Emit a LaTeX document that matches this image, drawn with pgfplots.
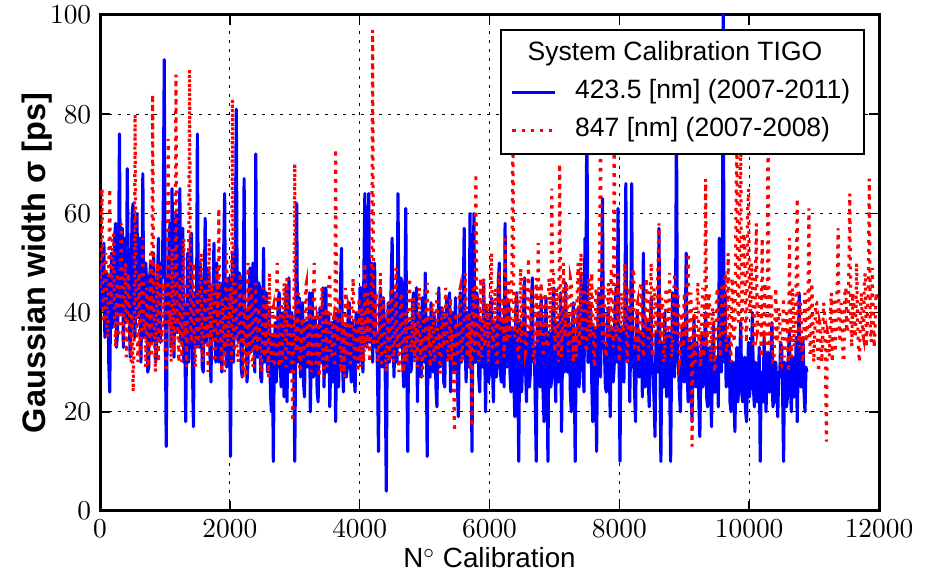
\documentclass[border=0pt]{standalone}
\usepackage[no-math]{fontspec}
\setmainfont{Liberation Sans}
\usepackage{pgfplots}
\usepackage{pgfplotstable}
\pgfplotsset{compat=1.18}

% 423.5 nm series, one value every 15 calibrations (0 ... 10890)
\pgfplotstableread[row sep=\\]{y\\
50\\41\\44\\52\\54\\35\\38\\48\\47\\30\\24\\45\\52\\37\\41\\55\\58\\33\\36\\49\\
76\\40\\45\\57\\33\\46\\55\\38\\69\\50\\40\\31\\48\\60\\62\\36\\35\\52\\60\\39\\
42\\55\\30\\44\\68\\35\\38\\50\\45\\28\\29\\47\\50\\34\\36\\52\\44\\30\\32\\46\\
55\\37\\34\\50\\47\\62\\91\\40\\13\\38\\42\\56\\58\\33\\65\\45\\31\\54\\60\\36\\
36\\48\\65\\34\\44\\57\\30\\41\\18\\36\\52\\30\\38\\55\\56\\28\\17\\44\\40\\33\\
76\\38\\33\\50\\45\\29\\28\\42\\59\\34\\37\\49\\48\\31\\26\\45\\42\\54\\35\\30\\
50\\37\\30\\46\\44\\28\\36\\52\\64\\33\\29\\45\\47\\38\\11\\40\\52\\30\\38\\55\\
81\\36\\34\\48\\46\\29\\27\\40\\67\\35\\40\\26\\30\\44\\49\\32\\33\\50\\43\\28\\
72\\34\\31\\46\\45\\27\\26\\38\\53\\30\\36\\44\\28\\37\\41\\24\\20\\35\\10\\32\\
38\\26\\30\\42\\44\\31\\25\\36\\40\\23\\33\\45\\22\\34\\47\\28\\29\\40\\36\\30\\
10\\35\\62\\30\\35\\43\\27\\38\\42\\26\\23\\37\\38\\29\\31\\44\\20\\33\\44\\27\\
28\\39\\36\\24\\22\\34\\41\\30\\30\\45\\25\\33\\45\\28\\32\\40\\21\\31\\38\\26\\
27\\40\\18\\32\\40\\25\\33\\46\\53\\30\\24\\37\\36\\27\\29\\42\\42\\31\\26\\38\\
35\\27\\24\\40\\38\\30\\30\\45\\45\\33\\28\\48\\64\\36\\33\\52\\64\\34\\40\\50\\
30\\42\\50\\33\\36\\28\\12\\40\\45\\30\\29\\43\\38\\26\\4\\35\\42\\30\\31\\46\\
55\\34\\27\\44\\40\\30\\64\\38\\33\\47\\46\\29\\25\\40\\61\\32\\12\\36\\38\\28\\
29\\42\\44\\31\\33\\45\\22\\37\\40\\28\\27\\43\\35\\30\\48\\33\\11\\39\\34\\27\\
42\\30\\28\\40\\36\\25\\21\\34\\45\\29\\30\\41\\38\\26\\25\\36\\43\\31\\32\\44\\
24\\38\\40\\28\\29\\43\\36\\26\\19\\35\\44\\30\\31\\42\\57\\33\\26\\40\\40\\29\\
60\\35\\12\\40\\60\\30\\30\\44\\42\\27\\24\\38\\37\\29\\46\\33\\20\\41\\35\\26\\
28\\40\\43\\30\\22\\36\\38\\27\\31\\45\\50\\29\\26\\38\\36\\25\\58\\34\\29\\42\\
41\\28\\24\\37\\35\\26\\19\\40\\44\\30\\10\\35\\38\\24\\30\\42\\47\\29\\22\\36\\
36\\25\\28\\41\\47\\30\\33\\22\\10\\38\\40\\27\\25\\43\\37\\24\\18\\34\\43\\29\\
10\\36\\34\\25\\27\\40\\45\\30\\22\\37\\38\\26\\30\\44\\16\\33\\41\\28\\46\\35\\
28\\39\\36\\24\\20\\35\\42\\29\\10\\33\\33\\41\\25\\30\\48\\36\\30\\24\\55\\40\\
85\\30\\30\\42\\40\\26\\18\\37\\36\\28\\12\\35\\44\\30\\27\\40\\63\\33\\33\\25\\
24\\38\\41\\29\\19\\35\\37\\26\\29\\42\\45\\30\\61\\34\\10\\37\\35\\27\\26\\40\\
66\\32\\30\\41\\22\\35\\66\\29\\34\\24\\18\\38\\40\\28\\27\\36\\36\\23\\52\\33\\
25\\37\\38\\27\\21\\34\\43\\30\\28\\22\\15\\36\\35\\28\\57\\31\\10\\34\\32\\25\\
40\\28\\23\\35\\36\\26\\10\\31\\44\\29\\27\\37\\80\\30\\30\\24\\20\\34\\37\\27\\
26\\35\\52\\28\\22\\33\\34\\24\\18\\30\\39\\26\\25\\34\\31\\22\\15\\29\\36\\25\\
27\\35\\40\\23\\21\\30\\33\\26\\17\\32\\38\\24\\24\\31\\30\\21\\55\\34\\28\\40\\
102\\30\\44\\25\\26\\33\\35\\22\\20\\30\\30\\24\\16\\28\\33\\22\\25\\31\\38\\24\\
22\\30\\31\\20\\18\\28\\34\\23\\26\\32\\40\\25\\21\\30\\29\\22\\24\\33\\10\\27\\
28\\22\\35\\26\\20\\31\\32\\24\\24\\29\\38\\21\\22\\30\\30\\25\\19\\28\\27\\34\\
33\\24\\10\\30\\29\\21\\23\\32\\36\\25\\20\\28\\31\\23\\26\\35\\18\\30\\44\\26\\
25\\31\\35\\24\\20\\29\\28\\
}\bluedata

% 847 nm series, one value every 15 calibrations (0 ... 11970)
\pgfplotstableread[row sep=\\]{y\\
45\\52\\65\\40\\38\\47\\52\\36\\35\\50\\65\\42\\42\\55\\56\\38\\33\\46\\48\\35\\
40\\49\\58\\36\\34\\45\\50\\31\\37\\48\\44\\33\\30\\40\\24\\35\\80\\42\\36\\30\\
48\\33\\31\\44\\55\\37\\38\\29\\45\\40\\29\\36\\52\\31\\84\\45\\35\\28\\42\\50\\
30\\41\\50\\34\\37\\46\\44\\32\\28\\40\\75\\37\\40\\30\\53\\44\\32\\38\\88\\41\\
36\\30\\47\\40\\30\\48\\55\\35\\38\\29\\42\\50\\89\\37\\34\\45\\50\\32\\29\\41\\
44\\33\\36\\48\\52\\30\\31\\42\\47\\35\\38\\28\\55\\40\\33\\46\\45\\31\\30\\39\\
49\\34\\61\\40\\35\\28\\43\\37\\28\\45\\52\\33\\37\\41\\45\\30\\83\\39\\32\\46\\
40\\31\\30\\43\\48\\34\\35\\27\\44\\38\\27\\36\\50\\30\\36\\45\\42\\29\\31\\40\\
46\\32\\34\\41\\39\\28\\28\\36\\45\\31\\37\\43\\33\\27\\48\\35\\30\\40\\41\\29\\
35\\42\\50\\31\\29\\38\\43\\30\\36\\46\\38\\29\\47\\34\\31\\40\\40\\28\\18\\35\\
70\\32\\33\\40\\44\\29\\28\\37\\39\\31\\35\\45\\46\\30\\30\\38\\42\\28\\36\\44\\
50\\31\\29\\39\\38\\27\\33\\42\\45\\30\\27\\36\\41\\29\\36\\46\\48\\32\\31\\38\\
39\\29\\73\\36\\34\\43\\42\\30\\28\\38\\37\\27\\45\\33\\31\\41\\40\\29\\35\\44\\
47\\31\\30\\38\\38\\28\\43\\35\\29\\41\\36\\30\\50\\37\\33\\44\\41\\30\\38\\46\\
97\\34\\34\\42\\44\\30\\30\\37\\48\\29\\36\\43\\39\\31\\28\\36\\42\\30\\35\\45\\
45\\30\\31\\39\\49\\33\\37\\28\\33\\44\\42\\31\\28\\37\\40\\30\\36\\46\\47\\32\\
32\\40\\43\\30\\38\\35\\29\\42\\45\\31\\35\\27\\40\\36\\31\\44\\46\\33\\37\\29\\
34\\41\\42\\30\\30\\37\\44\\32\\36\\28\\28\\40\\41\\33\\35\\45\\39\\30\\31\\38\\
43\\30\\36\\27\\16\\39\\40\\31\\33\\44\\45\\30\\30\\37\\38\\48\\42\\31\\34\\40\\
29\\38\\17\\45\\44\\32\\68\\40\\36\\30\\41\\47\\31\\38\\47\\33\\35\\42\\40\\30\\
38\\45\\52\\33\\33\\41\\45\\30\\30\\48\\48\\36\\36\\43\\42\\31\\55\\39\\34\\46\\
46\\35\\39\\48\\80\\37\\35\\44\\43\\31\\31\\40\\49\\34\\37\\47\\44\\32\\33\\42\\
51\\36\\36\\45\\40\\30\\30\\42\\47\\34\\54\\38\\35\\46\\42\\31\\38\\44\\38\\33\\
33\\47\\45\\36\\65\\40\\48\\32\\37\\45\\36\\30\\70\\41\\31\\38\\50\\35\\38\\46\\
41\\32\\35\\47\\46\\36\\30\\42\\39\\31\\44\\50\\33\\38\\52\\34\\37\\45\\42\\33\\
32\\43\\47\\35\\36\\48\\40\\31\\29\\44\\45\\37\\38\\52\\78\\40\\34\\46\\43\\32\\
31\\42\\46\\35\\37\\49\\41\\33\\76\\45\\35\\38\\48\\30\\32\\44\\44\\36\\38\\50\\
40\\32\\30\\45\\45\\37\\36\\48\\49\\33\\33\\41\\42\\30\\37\\46\\46\\34\\31\\40\\
39\\47\\44\\33\\35\\42\\50\\31\\32\\45\\43\\36\\38\\49\\58\\34\\34\\43\\41\\30\\
30\\44\\45\\35\\37\\48\\40\\31\\33\\42\\48\\36\\36\\45\\42\\30\\31\\40\\39\\33\\
44\\36\\35\\47\\52\\31\\38\\44\\13\\35\\41\\30\\33\\42\\46\\34\\37\\29\\40\\45\\
31\\38\\67\\33\\36\\44\\43\\30\\34\\41\\39\\28\\30\\43\\45\\35\\37\\31\\41\\46\\
35\\44\\48\\32\\33\\52\\40\\36\\30\\47\\44\\34\\36\\58\\78\\40\\38\\62\\75\\35\\
42\\56\\55\\38\\34\\60\\65\\41\\40\\50\\47\\33\\33\\45\\58\\36\\37\\43\\44\\31\\
55\\37\\36\\46\\42\\32\\79\\40\\33\\44\\40\\30\\30\\38\\45\\34\\35\\41\\39\\29\\
29\\36\\43\\31\\34\\40\\38\\28\\55\\37\\31\\45\\41\\33\\36\\48\\63\\35\\33\\42\\
40\\31\\30\\37\\44\\34\\35\\40\\61\\32\\32\\46\\39\\30\\36\\42\\42\\33\\28\\38\\
37\\30\\33\\42\\41\\29\\14\\36\\35\\31\\39\\44\\30\\36\\43\\32\\36\\45\\57\\38\\
34\\42\\40\\31\\31\\45\\45\\36\\37\\48\\64\\39\\33\\44\\42\\35\\36\\50\\39\\32\\
30\\41\\44\\36\\35\\47\\48\\33\\38\\45\\67\\37\\34\\49\\41\\33\\37\\44\\43\\
}\reddata

\begin{document}
\begin{tikzpicture}
\path[use as bounding box] (0,0) rectangle (371.6pt,229.6pt);
\begin{axis}[
  at={(40pt,25.2pt)}, anchor=south west,
  scale only axis, width=311.6pt, height=198.4pt,
  xmin=0, xmax=12000, ymin=0, ymax=100,
  xtick={0,2000,4000,6000,8000,10000,12000},
  ytick={0,20,40,60,80,100},
  scaled x ticks=false,
  xticklabel style={/pgf/number format/1000 sep={}},
  ticklabel style={font=\fontsize{10.6}{12}\selectfont},
  tick align=inside,
  major tick length=4pt,
  tick style={black, line width=0.6pt},
  axis line style={black, line width=1.2pt},
  grid=major,
  major grid style={black, line width=0.45pt, dash pattern=on 1pt off 2.6pt},
  xlabel={N$^\circ$ Calibration},
  ylabel={Gaussian width σ [ps]},
  xlabel style={at={(axis description cs:0.5,-0.1149)}, anchor=base, font=\fontsize{11.1}{13}\selectfont},
  ylabel style={at={(axis description cs:-0.0706,0.5)}, anchor=base, rotate=0, font=\fontsize{13}{15}\selectfont\bfseries},
  legend style={at={(0.982,0.972)}, anchor=north east, draw=black, line width=0.8pt, fill=white,
    font=\fontsize{10.6}{12.7}\selectfont, inner xsep=4pt, inner ysep=3pt,
    nodes={inner sep=1.5pt, text height=7.8pt, text depth=2.6pt},
    row sep=1.8pt, column sep=6pt},
  legend cell align=left,
  legend image code/.code={\draw[#1] (0pt,0pt) -- (17pt,0pt);},
]
\addlegendimage{empty legend}
\addlegendentry{\hspace*{-19pt}System Calibration TIGO}
\addplot[color={rgb,255:red,0;green,0;blue,255}, line width=1.25pt, line join=round] table[x expr=\coordindex*15, y=y] {\bluedata};
\addlegendentry{423.5 [nm] (2007-2011)}
\addplot[color={rgb,255:red,255;green,0;blue,0}, line width=1.25pt, dash pattern=on 1.25pt off 2.4pt] table[x expr=\coordindex*15, y=y] {\reddata};
\addlegendentry{847 [nm] (2007-2008)}
\end{axis}
\end{tikzpicture}
\end{document}
